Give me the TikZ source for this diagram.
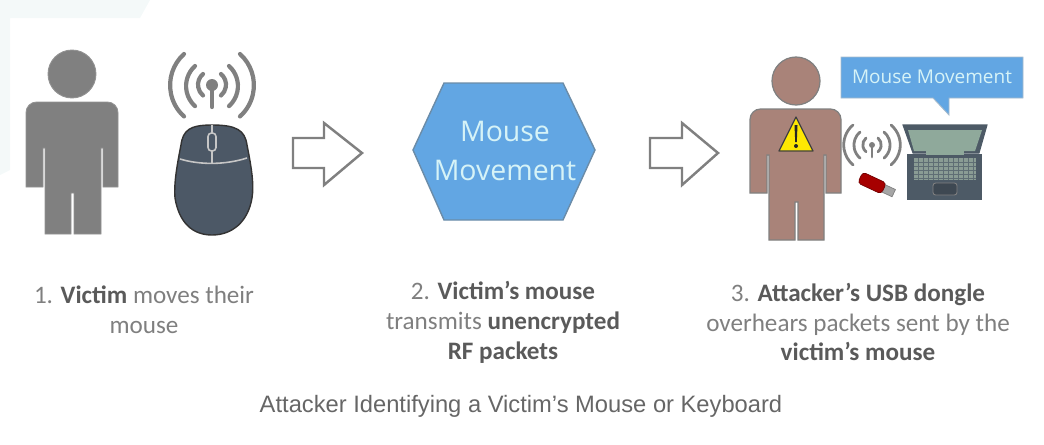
\documentclass[tikz,border=0pt]{standalone}
\usepackage{fontspec}
\setmainfont{Carlito}
\newfontfamily\captionfont{Liberation Sans}
\newfontfamily\shapefont{Open Sans}
\definecolor{figGray}{HTML}{808080}
\definecolor{figBrown}{HTML}{A98379}
\definecolor{figBlue}{HTML}{62A6E3}
\definecolor{figEdge}{HTML}{6B8CA8}
\definecolor{figPale}{HTML}{D6F3F7}
\definecolor{figText}{HTML}{7F7F7F}
\definecolor{figBold}{HTML}{5A5A5A}
\definecolor{figCap}{HTML}{666666}
\definecolor{figMouse}{HTML}{4C5866}
\definecolor{figLaptop}{HTML}{4D5A66}
\definecolor{figScreen}{HTML}{8FA99B}
\definecolor{figKeys}{HTML}{8A9C94}
\definecolor{figTint}{HTML}{F4F9F9}
\tikzset{
  wave/.style={draw=figGray,line width=2.4pt,line cap=round},
  smallwave/.style={draw=figGray,line width=1.6pt,line cap=round},
  blockarrow/.style={fill=white,draw=figGray,line width=1.4pt,line join=miter},
  steplabel/.style={align=center,text=figText,font=\fontsize{14.3}{17}\selectfont},
}
\newcommand{\hl}[1]{\textcolor{figBold}{\textbf{#1}}}

\begin{document}
\begin{tikzpicture}[x=0.02cm,y=-0.02cm]
  \useasboundingbox (0,0) rectangle (1044,444);
  \fill[figTint] (0,0) -- (150,0) -- (140,18) -- (10,18) -- (10,170) -- (0,175) -- cycle;

  \filldraw[fill=figGray,draw=figGray!85,line width=0.5pt] (72,74) circle (24);
  \filldraw[fill=figGray,draw=figGray!85,line width=0.5pt] (26,187) [rounded corners=6pt] -- (26,102) -- (118,102) [sharp corners] -- (118,187) -- (103,187) -- (103,148) -- (101,148) -- (101,234) -- (74,234) -- (74,193) -- (71,193) -- (71,234) -- (45,234) -- (45,148) -- (43,148) -- (43,187) -- cycle;

  \fill[figGray] (212,85) circle (6);
  \draw[wave] (212,85) -- (212,107);
  \draw[wave] (203,74) arc (-130:-230:14);
  \draw[wave] (221,74) arc (-50:50:14);
  \draw[wave] (195,66) arc (-132:-228:27);
  \draw[wave] (229,66) arc (-48:48:27);
  \draw[wave] (184,54) arc (-132:-228:42);
  \draw[wave] (240,54) arc (-48:48:42);

  \filldraw[fill=figMouse,draw=black!80,line width=0.8pt] (212,125) .. controls (236,125) and (245,130) .. (247,145) .. controls (252,170) and (254,185) .. (252,198) .. controls (248,222) and (232,235) .. (212,235) .. controls (192,235) and (179,222) .. (175,198) .. controls (174,185) and (176,170) .. (181,145) .. controls (183,130) and (190,125) .. (212,125) -- cycle;
  \draw[draw=figGray!45,line width=0.9pt] (180,159) .. controls (200,165) and (225,165) .. (247,158);
  \draw[draw=figGray!45,line width=0.9pt] (212,125) -- (212,133);
  \draw[draw=figGray!45,line width=0.9pt] (212,151) -- (212,163);
  \draw[draw=figGray!45,line width=0.9pt,rounded corners=2pt] (208,133) rectangle (216,151);

  \filldraw[blockarrow] (293,138) -- (324,138) -- (324,123) -- (362,153) -- (324,185) -- (324,168) -- (293,168) -- cycle;

  \filldraw[fill=figBlue,draw=figEdge,line width=0.8pt] (413,150) -- (444,83) -- (563,83) -- (595,150) -- (563,220) -- (444,220) -- cycle;
  \node[align=center,text=figPale,font=\shapefont\fontsize{16.2}{22}\selectfont] (hexText) at (505,151) {Mouse\\Movement};

  \filldraw[blockarrow] (650,138) -- (682,138) -- (682,123) -- (718,153) -- (682,185) -- (682,168) -- (650,168) -- cycle;

  \filldraw[fill=figBrown,draw=figGray,line width=0.7pt] (796,81) circle (24);
  \filldraw[fill=figBrown,draw=figGray,line width=0.7pt] (750,193) [rounded corners=6pt] -- (750,109) -- (841,109) [sharp corners] -- (841,193) -- (826,193) -- (826,155) -- (824,155) -- (824,240) -- (798,240) -- (798,202) -- (795,202) -- (795,240) -- (769,240) -- (769,155) -- (767,155) -- (767,193) -- cycle;
  \filldraw[fill=yellow!90!orange,draw=black!75,line width=0.7pt,line join=round] (796,117) -- (813,151) -- (779,151) -- cycle;
  \fill[black!85] (794.5,125) -- (797.5,125) -- (796.8,142) -- (795.2,142) -- cycle;
  \fill[black!85] (796,146) circle (2);

  \filldraw[fill=figBlue,draw=figEdge!60,line width=0.5pt] (841,57) -- (1023,57) -- (1023,98) -- (949,98) -- (949,115) -- (933,98) -- (841,98) -- cycle;
  \node[text=figPale,font=\shapefont\fontsize{10.8}{12}\selectfont] (bubbleText) at (932,77) {Mouse Movement};

  \fill[figGray] (872,145) circle (3);
  \draw[smallwave] (872,145) -- (872,157);
  \draw[smallwave] (866,138) arc (-130:-230:9);
  \draw[smallwave] (878,138) arc (-50:50:9);
  \draw[smallwave] (860,132) arc (-130:-230:17);
  \draw[smallwave] (884,132) arc (-50:50:17);
  \draw[smallwave] (853,125) arc (-130:-230:26);
  \draw[smallwave] (891,125) arc (-50:50:26);

  \filldraw[fill=figGray!70,draw=figGray,line width=0.4pt,rotate around={-25:(872,183)}] (882,179) rectangle (896,187);
  \filldraw[fill=red!65!black,draw=red!45!black,line width=0.4pt,rotate around={-25:(872,183)},rounded corners=2pt] (859,177) rectangle (885,189);

  \filldraw[fill=figLaptop,draw=figLaptop,line width=0.6pt] (903,125) -- (987,125) -- (979,153) -- (913,153) -- cycle;
  \fill[figScreen] (908,130) -- (982,130) -- (975,151) -- (914,151) -- cycle;
  \filldraw[fill=figLaptop,draw=figLaptop,line width=0.6pt] (908,155) -- (981,155) -- (981,199) -- (908,199) -- cycle;
  \fill[figScreen] (926,151) rectangle (964,155);
  \fill[figKeys] (914,158) rectangle (976,180);
  \foreach \kx in {918,923,...,973} \draw[figLaptop!70!figKeys,line width=0.25pt] (\kx,158) -- (\kx,180);
  \foreach \ky in {162,166,...,178} \draw[figLaptop!70!figKeys,line width=0.25pt] (914,\ky) -- (976,\ky);
  \filldraw[fill=figLaptop!80!black,draw=figGray,line width=0.5pt,rounded corners=1.5pt] (933,183) rectangle (957,195);

  \node[steplabel] (stepOne) at (144,310) {1. \hl{Victim} moves their\\mouse};
  \node[steplabel] (stepTwo) at (503,322) {2. \hl{Victim’s mouse}\\transmits \hl{unencrypted}\\\hl{RF packets}};
  \node[steplabel] (stepThree) at (858,322) {3. \hl{Attacker’s USB dongle}\\overhears packets sent by the\\\hl{victim’s mouse}};
  \node[text=figCap,font=\captionfont\fontsize{13.5}{16}\selectfont] (figCaption) at (521,406) {Attacker Identifying a Victim’s Mouse or Keyboard};
\end{tikzpicture}
\end{document}
